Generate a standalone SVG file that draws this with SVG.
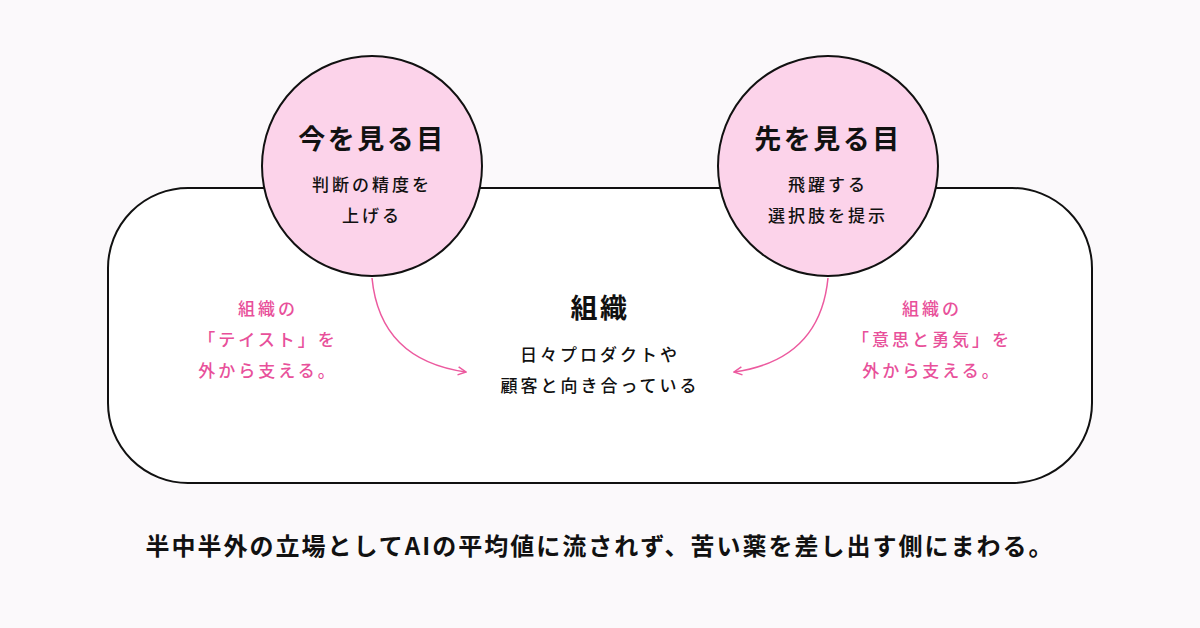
<svg xmlns="http://www.w3.org/2000/svg" width="1200" height="628" viewBox="0 0 1200 628">
<defs>
<style>
text{font-family:"Noto Sans CJK JP","Noto Sans",sans-serif;text-anchor:middle;fill:#111;}
.t{font-size:27px;font-weight:700;letter-spacing:2.5px}
.s{font-size:17px;font-weight:500;letter-spacing:3px}
.p{font-size:17px;font-weight:500;fill:#e8509a;letter-spacing:3px}
.c{fill:#fcd3ea;stroke:#111;stroke-width:2}
.a{fill:none;stroke:#ec5a9f;stroke-width:1.5}
</style>
<marker id="ah" viewBox="0 0 10 10" refX="9" refY="5" markerWidth="10" markerHeight="10" markerUnits="userSpaceOnUse" orient="auto"><path d="M1,1 L9,5 L1,9" fill="none" stroke="#ec5a9f" stroke-width="1.5"/></marker>
</defs>
<rect width="1200" height="628" fill="#fbf9fb"/>
<g id="org"><rect x="108" y="188" width="984" height="295" rx="80" fill="#fff" stroke="#111" stroke-width="2"/>
<text class="t" x="600" y="318">組織</text>
<text class="s" x="600" y="361">日々プロダクトや</text>
<text class="s" x="600" y="392">顧客と向き合っている</text></g>
<g id="connectors">
<path class="a" d="M372,278 Q380,360 466,372" marker-end="url(#ah)"/>
<path class="a" d="M828,278 Q820,360 734,372" marker-end="url(#ah)"/>
</g>
<g id="now"><circle class="c" cx="372" cy="166" r="110"/>
<text class="t" x="372" y="149">今を見る目</text>
<text class="s" x="372" y="191">判断の精度を</text>
<text class="s" x="372" y="222">上げる</text></g>
<g id="future"><circle class="c" cx="828" cy="166" r="110"/>
<text class="t" x="828" y="149">先を見る目</text>
<text class="s" x="828" y="191">飛躍する</text>
<text class="s" x="828" y="222">選択肢を提示</text></g>
<g id="labelL"><text class="p" x="268" y="315">組織の</text>
<text class="p" x="268" y="346">「テイスト」を</text>
<text class="p" x="268" y="377">外から支える。</text></g>
<g id="labelR"><text class="p" x="932" y="315">組織の</text>
<text class="p" x="932" y="346">「意思と勇気」を</text>
<text class="p" x="932" y="377">外から支える。</text></g>
<text x="600" y="555" style="font-size:24px;font-weight:700;letter-spacing:2px">半中半外の立場としてAIの平均値に流されず、苦い薬を差し出す側にまわる。</text>
</svg>
